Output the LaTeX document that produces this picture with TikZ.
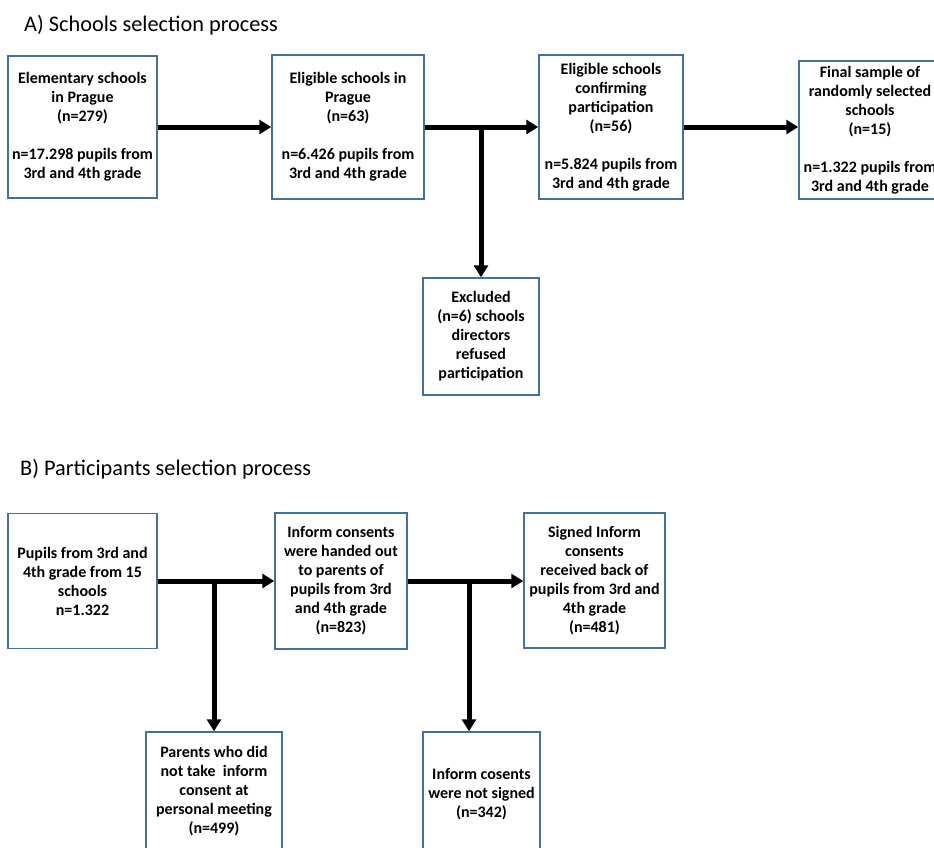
\documentclass[tikz,border=0pt]{standalone}
\usepackage{fontspec}
\setmainfont{Carlito}
\usetikzlibrary{arrows.meta}

\definecolor{boxblue}{RGB}{65,113,156}

\tikzset{
    stagebox/.style={draw=boxblue, line width=1.5pt, align=center, inner sep=0pt,
        font=\bfseries\fontsize{16}{19}\selectfont},
    flowline/.style={line width=5pt},
    flowarrow/.style={line width=5pt, -{Triangle[length=12pt,width=14pt]}},
    steptitle/.style={anchor=west, inner sep=0pt, font=\fontsize{22.3}{26}\selectfont}
}

\begin{document}
\begin{tikzpicture}[x=1pt, y=-1pt]
    \useasboundingbox (0,0) rectangle (934,847);
    \clip (0,0) rectangle (934,847);

    % A) Schools
    \node[steptitle] (titleA) at (24,25) {A) Schools selection process};

    \node[stagebox, minimum width=149pt, minimum height=142pt] (a1) at (82.5,127)
        {Elementary schools\\ in Prague\\ (n=279)\\[19pt] n=17.298 pupils from\\ 3rd and 4th grade};
    \node[stagebox, minimum width=152pt, minimum height=144pt] (a2) at (348,127)
        {Eligible schools in\\ Prague\\ (n=63)\\[19pt] n=6.426 pupils from\\ 3rd and 4th grade};
    \node[stagebox, minimum width=144pt, minimum height=144pt] (a3) at (611,127)
        {Eligible schools\\ confirming\\ participation\\ (n=56)\\[19pt] n=5.824 pupils from\\ 3rd and 4th grade};
    \node[stagebox, minimum width=142pt, minimum height=138pt] (a4) at (870,130)
        {Final sample of\\ randomly selected\\ schools\\ (n=15)\\[19pt] n=1.322 pupils from\\ 3rd and 4th grade};
    \node[stagebox, minimum width=116pt, minimum height=117pt] (a5) at (481,336.5)
        {Excluded\\ (n=6) schools\\ directors\\ refused\\ participation};

    \draw[flowarrow] (a1.east) -- (a2.west);
    \draw[flowarrow] (a2.east) -- (a3.west);
    \draw[flowarrow] (a3.east) -- (a3.east -| a4.west);
    \draw[flowarrow] (a2.east -| a5.north) -- (a5.north);

    % B) Participants
    \node[steptitle] (titleB) at (20,469) {B) Participants selection process};

    \node[stagebox, minimum width=149pt, minimum height=135pt] (b1) at (82.5,581)
        {Pupils from 3rd and\\ 4th grade from 15\\ schools\\ n=1.322};
    \node[stagebox, minimum width=132pt, minimum height=136pt] (b2) at (341,581)
        {Inform consents\\ were handed out\\ to parents of\\ pupils from 3rd\\ and 4th grade\\ (n=823)};
    \node[stagebox, minimum width=141pt, minimum height=135pt] (b3) at (594.5,580.5)
        {Signed Inform\\ consents\\ received back of\\ pupils from 3rd and\\ 4th grade\\ (n=481)};
    \node[stagebox, minimum width=136pt, minimum height=118pt] (b4) at (214,791)
        {Parents who did\\ not take\ \ inform\\ consent at\\ personal meeting\\ (n=499)};
    \node[stagebox, minimum width=117pt, minimum height=124pt] (b5) at (481.5,794)
        {Inform cosents\\ were not signed\\ (n=342)};

    \coordinate (b2split) at (469,581);

    \draw[flowarrow] (b1.east) -- (b1.east -| b2.west);
    \draw[flowarrow] (b2.east) -- (b2.east -| b3.west);
    \draw[flowarrow] (b1.east -| b4.north) -- (b4.north);
    \draw[flowarrow] (b2split) -- (b2split |- b5.north);
\end{tikzpicture}
\end{document}
